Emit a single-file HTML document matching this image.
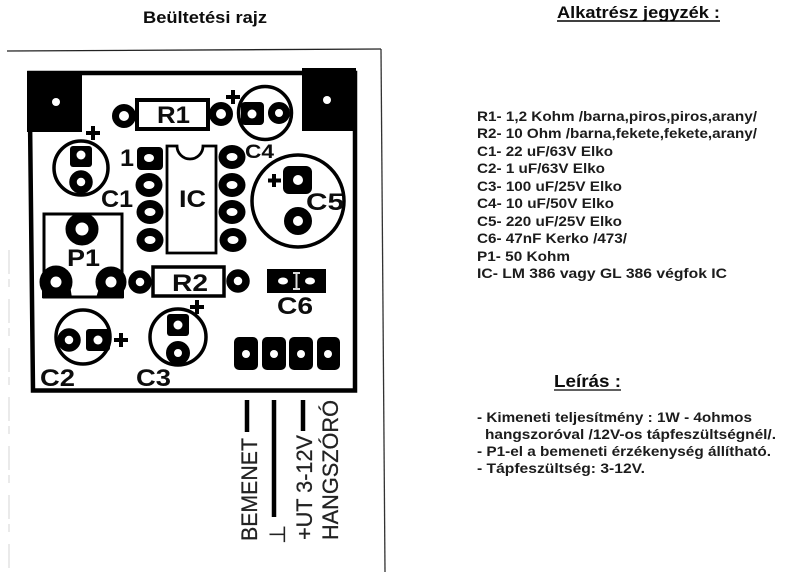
<!DOCTYPE html>
<html>
<head>
<meta charset="utf-8">
<style>
html,body{margin:0;padding:0;background:#fff;width:800px;height:572px;overflow:hidden}
svg{display:block}
text{font-family:"Liberation Sans",sans-serif;fill:#0a0a0a}
.b{font-weight:bold}
.l{font-weight:bold;font-size:14px;fill:#1a1a1a}
.p{font-weight:bold;font-size:24.5px}
.r{font-size:22px;fill:#222;stroke:#222;stroke-width:.25px}
</style>
</head>
<body>
<svg width="800" height="572" viewBox="0 0 800 572" xmlns="http://www.w3.org/2000/svg">
<defs><filter id="s" x="-2%" y="-2%" width="104%" height="104%"><feGaussianBlur stdDeviation="0.35"/></filter></defs>
<rect width="800" height="572" fill="#fff"/>
<g filter="url(#s)">
<!-- Scan frame -->
<path d="M7 51L381 49" stroke="#222" stroke-width="1.300" fill="none"/>
<path d="M381 49L385 572" stroke="#333" stroke-width="1.300" fill="none"/>
<path d="M9 250V572" stroke="#ccc" stroke-width="0.800" stroke-dasharray="24 5 8 12" fill="none"/>

<!-- Board -->
<path d="M29.5 73H355V390.500H33Z" fill="none" stroke="#000" stroke-width="4.500"/>
<rect x="27" y="71" width="55" height="61" fill="#000"/>
<rect x="302" y="68" width="54" height="63" fill="#000"/>
<circle cx="56" cy="102" r="4" fill="#fff"/>
<circle cx="327" cy="100" r="4" fill="#fff"/>

<!-- R1 -->
<rect x="137" y="100" width="71" height="29" fill="#fff" stroke="#000" stroke-width="4"/>
<circle cx="124" cy="116" r="8.500" fill="#fff" stroke="#000" stroke-width="7"/>
<circle cx="221" cy="114" r="8.500" fill="#fff" stroke="#000" stroke-width="7"/>
<text class="p" x="157" y="123" textLength="33" lengthAdjust="spacingAndGlyphs">R1</text>

<!-- C4 -->
<circle cx="265" cy="113" r="26.500" fill="#fff" stroke="#000" stroke-width="3.500"/>
<rect x="241" y="102" width="23" height="23" rx="4" fill="#000"/>
<circle cx="252" cy="114" r="4.500" fill="#fff"/>
<circle cx="279" cy="113" r="7.500" fill="#fff" stroke="#000" stroke-width="7"/>
<path d="M233 90V104M226 97H240" stroke="#000" stroke-width="4" fill="none"/>
<text class="p" x="245" y="158" style="font-size:19px" textLength="29" lengthAdjust="spacingAndGlyphs">C4</text>

<!-- C1 -->
<circle cx="81" cy="168" r="27" fill="#fff" stroke="#000" stroke-width="3.500"/>
<rect x="70" y="146" width="22" height="21" rx="3" fill="#000"/>
<circle cx="81" cy="155" r="4.500" fill="#fff"/>
<circle cx="81" cy="182" r="8" fill="#fff" stroke="#000" stroke-width="7.500"/>
<path d="M93 126V140M86 133H100" stroke="#000" stroke-width="4" fill="none"/>
<text class="p" x="101" y="207" textLength="32" lengthAdjust="spacingAndGlyphs">C1</text>
<text class="p" x="120" y="166" textLength="14" lengthAdjust="spacingAndGlyphs">1</text>

<!-- IC -->
<path d="M167 146H177A13 13 0 0 0 203 146H216V253H167Z" fill="#fff" stroke="#000" stroke-width="2.800"/>
<text class="p" x="179" y="207" textLength="27" lengthAdjust="spacingAndGlyphs">IC</text>
<rect x="137" y="147" width="26" height="23" rx="4" fill="#000"/>
<ellipse cx="149" cy="158" rx="5" ry="4" fill="#fff"/>
<g fill="#000">
<ellipse cx="149" cy="185" rx="13.500" ry="12"/>
<ellipse cx="150" cy="212" rx="13.500" ry="12"/>
<ellipse cx="150" cy="240" rx="13.500" ry="12"/>
<ellipse cx="232" cy="157" rx="13.500" ry="12"/>
<ellipse cx="232" cy="185" rx="13.500" ry="12"/>
<ellipse cx="232" cy="212" rx="13.500" ry="12"/>
<ellipse cx="233" cy="240" rx="13.500" ry="12"/>
</g>
<g fill="#fff">
<ellipse cx="149" cy="185" rx="5.500" ry="4"/>
<ellipse cx="150" cy="212" rx="5.500" ry="4"/>
<ellipse cx="150" cy="240" rx="5.500" ry="4"/>
<ellipse cx="232" cy="157" rx="5.500" ry="4"/>
<ellipse cx="232" cy="185" rx="5.500" ry="4"/>
<ellipse cx="232" cy="212" rx="5.500" ry="4"/>
<ellipse cx="233" cy="240" rx="5.500" ry="4"/>
</g>

<!-- C5 -->
<circle cx="298" cy="201" r="46" fill="#fff" stroke="#000" stroke-width="3.500"/>
<rect x="283" y="166" width="29" height="28" rx="6" fill="#000"/>
<circle cx="298" cy="180" r="5" fill="#fff"/>
<circle cx="298" cy="221" r="9.500" fill="#fff" stroke="#000" stroke-width="9"/>
<path d="M274 174V187M268 180.500H281" stroke="#000" stroke-width="4" fill="none"/>
<text class="p" x="306" y="210" textLength="38" lengthAdjust="spacingAndGlyphs">C5</text>

<!-- P1 -->
<rect x="44" y="214" width="78" height="83" fill="#fff" stroke="#000" stroke-width="3"/>
<path d="M42 285H70L72 298H42ZM124 285H100L96 298H124Z" fill="#000"/>
<circle cx="82" cy="229" r="11.500" fill="#fff" stroke="#000" stroke-width="10"/>
<circle cx="56" cy="282" r="11" fill="#fff" stroke="#000" stroke-width="11"/>
<circle cx="111" cy="282" r="10.500" fill="#fff" stroke="#000" stroke-width="10"/>
<text class="p" x="67" y="266" textLength="33" lengthAdjust="spacingAndGlyphs">P1</text>

<!-- R2 -->
<rect x="153" y="267" width="71" height="29" fill="#fff" stroke="#000" stroke-width="3.500"/>
<circle cx="140" cy="282" r="8" fill="#fff" stroke="#000" stroke-width="7.500"/>
<circle cx="238" cy="281" r="8" fill="#fff" stroke="#000" stroke-width="7.500"/>
<text class="p" x="172" y="291" textLength="36" lengthAdjust="spacingAndGlyphs">R2</text>

<!-- C6 -->
<rect x="267" y="269" width="59" height="24" fill="#000"/>
<ellipse cx="283" cy="281" rx="5" ry="3.500" fill="#fff"/>
<ellipse cx="310" cy="281" rx="5" ry="3.500" fill="#fff"/>
<path d="M293 273H300M296.500 273V289M293 289H300" stroke="#ddd" stroke-width="2" fill="none"/>
<text class="p" x="277" y="314" textLength="36" lengthAdjust="spacingAndGlyphs">C6</text>

<!-- C2 -->
<circle cx="83" cy="337" r="27" fill="#fff" stroke="#000" stroke-width="3.500"/>
<circle cx="69" cy="340" r="8" fill="#fff" stroke="#000" stroke-width="7.500"/>
<rect x="86" y="329" width="24" height="22" rx="3" fill="#000"/>
<circle cx="98" cy="340" r="4.500" fill="#fff"/>
<path d="M121 333V347M114 340H128" stroke="#000" stroke-width="4" fill="none"/>
<text class="p" x="40" y="386" textLength="35" lengthAdjust="spacingAndGlyphs">C2</text>

<!-- C3 -->
<circle cx="178" cy="337" r="28" fill="#fff" stroke="#000" stroke-width="3.500"/>
<rect x="167" y="314" width="22" height="22" rx="3" fill="#000"/>
<circle cx="178" cy="325" r="4.500" fill="#fff"/>
<circle cx="178" cy="353" r="8" fill="#fff" stroke="#000" stroke-width="8"/>
<path d="M197 300V314M190 307H204" stroke="#000" stroke-width="4" fill="none"/>
<text class="p" x="136" y="386" textLength="35" lengthAdjust="spacingAndGlyphs">C3</text>

<!-- Connector pads -->
<rect x="234" y="337" width="24" height="33" rx="5" fill="#000"/>
<rect x="262" y="337" width="24" height="33" rx="5" fill="#000"/>
<rect x="289" y="337" width="24" height="33" rx="5" fill="#000"/>
<rect x="317" y="337" width="23" height="33" rx="5" fill="#000"/>
<g fill="#fff">
<circle cx="246" cy="354" r="4"/>
<circle cx="274" cy="354" r="4"/>
<circle cx="301" cy="354" r="4"/>
<circle cx="328" cy="354" r="4"/>
</g>

<!-- Lead lines -->
<path d="M247 400V432M274 400V517M303 400V431" stroke="#000" stroke-width="4.500" fill="none"/>

<!-- Rotated labels -->
<text class="r" transform="translate(257 541) rotate(-90)" textLength="103" lengthAdjust="spacingAndGlyphs">BEMENET</text>
<text class="r" transform="translate(285 544) rotate(-90)" style="font-family:'DejaVu Sans',sans-serif;font-size:22px">⊥</text>
<text class="r" transform="translate(312 540) rotate(-90)" textLength="105" lengthAdjust="spacingAndGlyphs">+UT 3-12V</text>
<text class="r" transform="translate(338 540) rotate(-90)" textLength="140" lengthAdjust="spacingAndGlyphs">HANGSZÓRÓ</text>

<!-- Titles -->
<text class="b" x="143" y="23" style="font-size:17px" textLength="124" lengthAdjust="spacingAndGlyphs">Beültetési rajz</text>
<text class="b" x="557" y="18" style="font-size:17px" textLength="163" lengthAdjust="spacingAndGlyphs">Alkatrész jegyzék :</text>
<path d="M557 21H720" stroke="#000" stroke-width="1.500" fill="none"/>

<!-- Parts list -->
<text class="l" x="477" y="121" textLength="280" lengthAdjust="spacingAndGlyphs">R1- 1,2 Kohm /barna,piros,piros,arany/</text>
<text class="l" x="477" y="138" textLength="280" lengthAdjust="spacingAndGlyphs">R2- 10 Ohm /barna,fekete,fekete,arany/</text>
<text class="l" x="477" y="156" textLength="136" lengthAdjust="spacingAndGlyphs">C1- 22 uF/63V Elko</text>
<text class="l" x="477" y="173" textLength="128" lengthAdjust="spacingAndGlyphs">C2- 1 uF/63V Elko</text>
<text class="l" x="477" y="191" textLength="145" lengthAdjust="spacingAndGlyphs">C3- 100 uF/25V Elko</text>
<text class="l" x="477" y="208" textLength="137" lengthAdjust="spacingAndGlyphs">C4- 10 uF/50V Elko</text>
<text class="l" x="477" y="226" textLength="145" lengthAdjust="spacingAndGlyphs">C5- 220 uF/25V Elko</text>
<text class="l" x="477" y="243" textLength="150" lengthAdjust="spacingAndGlyphs">C6- 47nF Kerko /473/</text>
<text class="l" x="477" y="261" textLength="93" lengthAdjust="spacingAndGlyphs">P1- 50 Kohm</text>
<text class="l" x="477" y="278" textLength="250" lengthAdjust="spacingAndGlyphs">IC-  LM 386 vagy GL 386 végfok IC</text>

<!-- Description -->
<text class="b" x="554" y="387" style="font-size:17.500px" textLength="67" lengthAdjust="spacingAndGlyphs">Leírás :</text>
<path d="M554 390H621" stroke="#000" stroke-width="1.200" fill="none"/>
<text class="l" x="477" y="422" textLength="275" lengthAdjust="spacingAndGlyphs">- Kimeneti teljesítmény : 1W - 4ohmos</text>
<text class="l" x="485" y="439" textLength="291" lengthAdjust="spacingAndGlyphs">hangszoróval /12V-os tápfeszültségnél/.</text>
<text class="l" x="477" y="456" textLength="294" lengthAdjust="spacingAndGlyphs">- P1-el a bemeneti érzékenység állítható.</text>
<text class="l" x="477" y="473" textLength="168" lengthAdjust="spacingAndGlyphs">- Tápfeszültség: 3-12V.</text>
</g>
</svg>
</body>
</html>
